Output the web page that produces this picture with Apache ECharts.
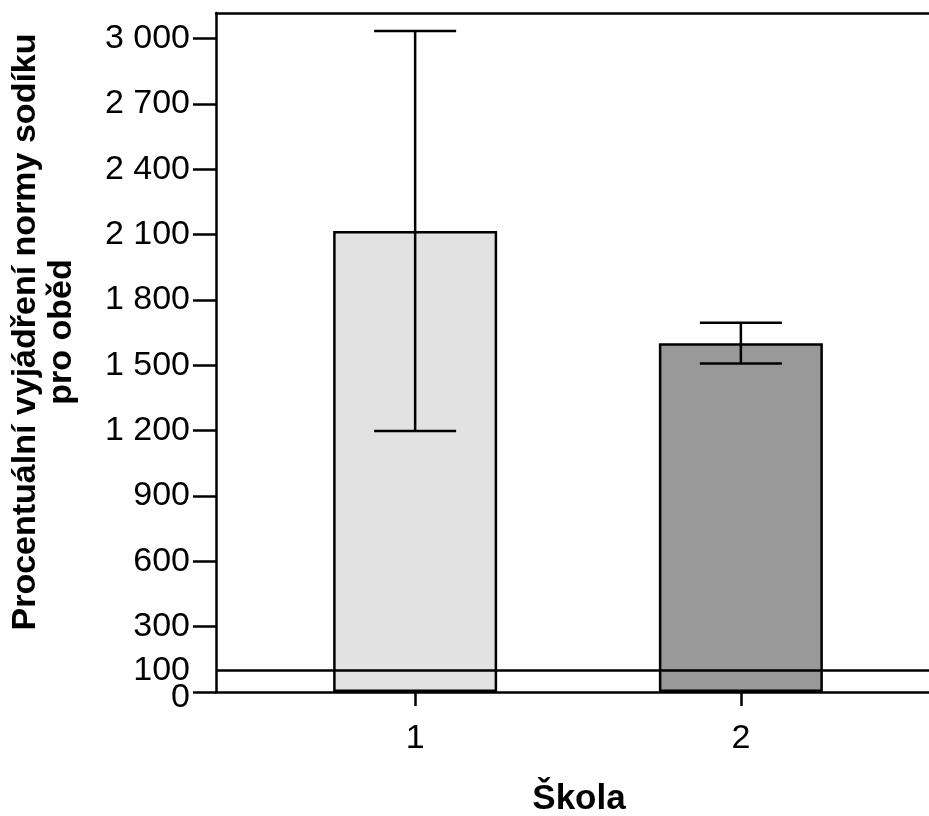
<!DOCTYPE html>
<html>
<head>
<meta charset="utf-8">
<script src="https://cdn.jsdelivr.net/npm/echarts@6/dist/echarts.min.js"></script>
<style>
  html, body { margin: 0; padding: 0; background: #fff; }
  #main { width: 929px; height: 816px; }
</style>
</head>
<body>
<div id="main"></div>
<script>
var schools = ['1', '2'];
var schoolPos = [1, 2];
var means = [2117, 1602];
var errLow = [1199, 1508];
var errHigh = [3035, 1696];
var barColors = ['#e2e2e2', '#999999'];
var yTicks = [0, 300, 600, 900, 1200, 1500, 1800, 2100, 2400, 2700, 3000];
var yLabels = [0, 300, 600, 900, 1200, 1500, 1800, 2100, 2400, 2700, 3000];
var refValue = 100;

var font = 'Liberation Sans, Arial, sans-serif';
var myChart = echarts.init(document.getElementById('main'));

function fmt(v) {
    if (v === 0) return '{z|0}';
    return String(v).replace(/\B(?=(\d{3})+(?!\d))/g, ' ');
}

var barData = schoolPos.map(function (x, i) {
    return { value: [x, means[i]], itemStyle: { color: barColors[i] } };
});
var errData = schoolPos.map(function (x, i) {
    return [x, errLow[i], errHigh[i]];
});

myChart.setOption({
    animation: false,
    backgroundColor: '#fff',
    grid: { left: 216, right: 0, top: 13, bottom: 124 },
    xAxis: [{
        type: 'value',
        min: 0.3886,
        max: 2.5776,
        splitLine: { show: false },
        axisLine: { show: true, lineStyle: { color: '#000', width: 2.5 } },
        axisTick: { show: true, length: 14, lineStyle: { color: '#000', width: 2.5 }, customValues: schoolPos },
        axisLabel: {
            customValues: schoolPos,
            color: '#000', fontSize: 34, fontFamily: font, margin: 30,
            formatter: function (v) { return schools[schoolPos.indexOf(v)] || ''; }
        }
    }, {
        type: 'value',
        position: 'top',
        min: 0.3886,
        max: 2.5776,
        splitLine: { show: false },
        axisLine: { show: true, onZero: false, lineStyle: { color: '#000', width: 2.5 } },
        axisTick: { show: false },
        axisLabel: { show: false }
    }],
    yAxis: [{
        type: 'value',
        min: 0,
        max: 3118,
        splitLine: { show: false },
        axisLine: { show: true, lineStyle: { color: '#000', width: 2.5 } },
        axisTick: { show: true, length: 23, lineStyle: { color: '#000', width: 2.5 }, customValues: yTicks },
        axisLabel: {
            customValues: yLabels,
            showMinLabel: true,
            hideOverlap: false,
            color: '#000', fontSize: 34, fontFamily: font, margin: 26,
            formatter: fmt,
            rich: { z: { fontSize: 34, fontFamily: font, color: '#000', padding: [11, 0, 0, 0] } }
        }
    }, {
        type: 'value',
        position: 'left',
        min: 0,
        max: 3118,
        splitLine: { show: false },
        axisLine: { show: false },
        axisTick: { show: false },
        axisLabel: {
            customValues: [refValue],
            color: '#000', fontSize: 34, fontFamily: font, margin: 26,
            formatter: fmt
        }
    }],
    graphic: [{
        type: 'text',
        x: 44, y: 332,
        rotation: Math.PI / 2,
        style: {
            text: 'Procentuální vyjádření normy sodíku\npro oběd',
            font: 'bold 34px ' + font,
            fill: '#000',
            align: 'center',
            verticalAlign: 'middle',
            lineHeight: 36
        }
    }, {
        type: 'text',
        x: 579, y: 799,
        style: {
            text: 'Škola',
            font: 'bold 35px ' + font,
            fill: '#000',
            align: 'center',
            verticalAlign: 'middle'
        }
    }],
    series: [{
        type: 'bar',
        barWidth: 164,
        data: barData,
        itemStyle: { borderColor: '#000', borderWidth: 2.5 },
        markLine: {
            silent: true,
            symbol: 'none',
            label: { show: false },
            lineStyle: { color: '#000', width: 2.5, type: 'solid' },
            data: [{ yAxis: refValue }]
        },
        z: 2
    }, {
        type: 'custom',
        data: errData,
        z: 3,
        renderItem: function (params, api) {
            var x = api.value(0);
            var lo = api.coord([x, api.value(1)]);
            var hi = api.coord([x, api.value(2)]);
            var hw = 41;
            var st = { stroke: '#000', lineWidth: 2.5 };
            return {
                type: 'group',
                children: [
                    { type: 'line', shape: { x1: lo[0], y1: lo[1], x2: hi[0], y2: hi[1] }, style: st },
                    { type: 'line', shape: { x1: hi[0] - hw, y1: hi[1], x2: hi[0] + hw, y2: hi[1] }, style: st },
                    { type: 'line', shape: { x1: lo[0] - hw, y1: lo[1], x2: lo[0] + hw, y2: lo[1] }, style: st }
                ]
            };
        }
    }]
});
</script>
</body>
</html>
